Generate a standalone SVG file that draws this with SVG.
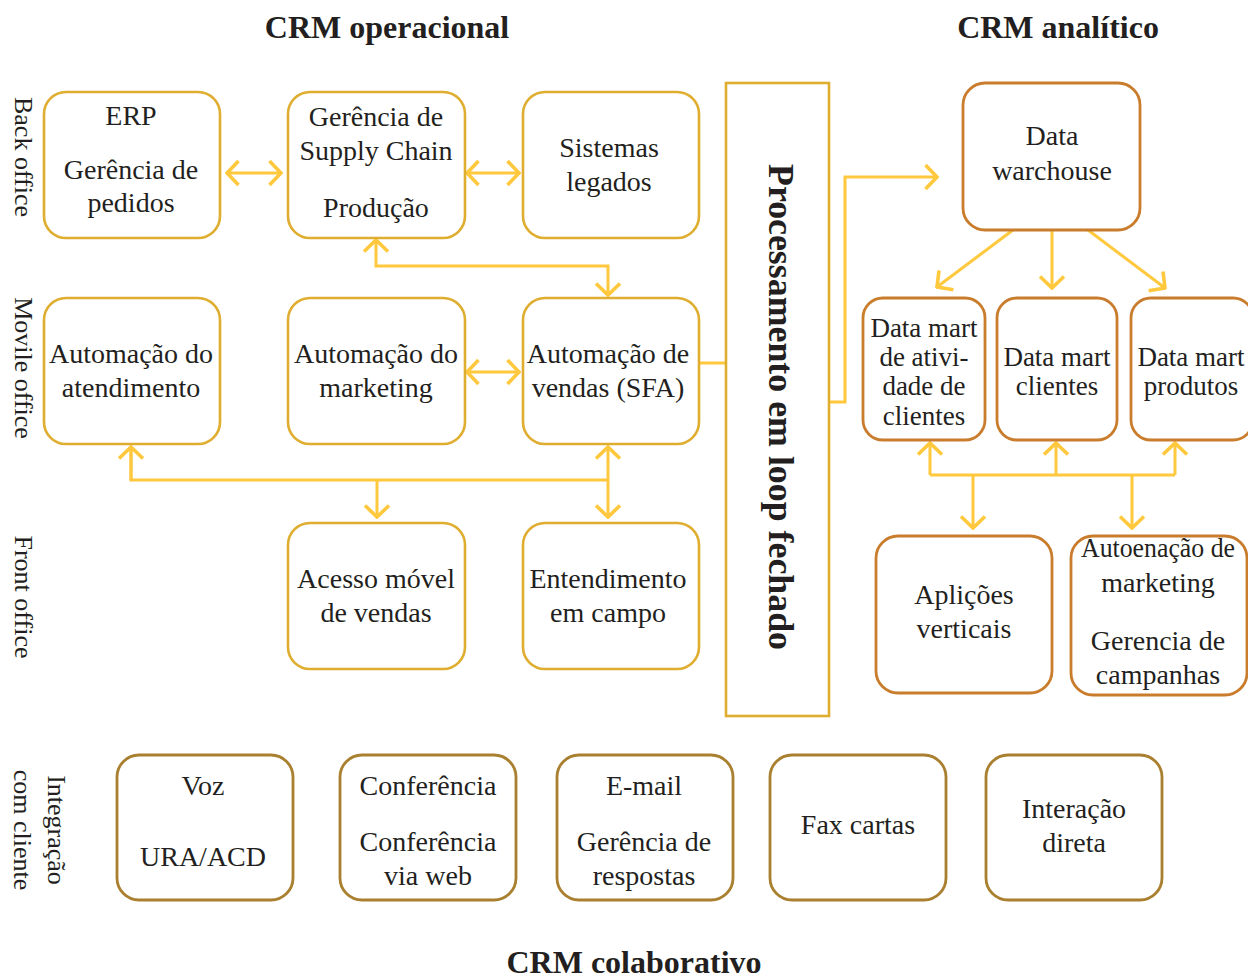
<svg xmlns="http://www.w3.org/2000/svg" width="1248" height="978" viewBox="0 0 1248 978">
  <style>
    text { font-family: "Liberation Serif", serif; fill: #231f20; }
    .t { font-size: 28px; text-anchor: middle; }
    .dm { font-size: 27px; text-anchor: middle; }
    .side { font-size: 26px; text-anchor: middle; }
    .head { font-size: 32px; font-weight: bold; text-anchor: middle; }
    .loop { font-size: 35px; font-weight: bold; text-anchor: middle; }
    .op { fill: #fff; stroke: #dfad2f; stroke-width: 2.6; }
    .an { fill: #fff; stroke: #c97c2c; stroke-width: 2.8; }
    .co { fill: #fff; stroke: #a97f30; stroke-width: 2.8; }
    .bar { fill: #fff; stroke: #dfad2f; stroke-width: 2.6; }
    .ln { fill: none; stroke: #ffc83d; stroke-width: 3; }
  </style>
  <defs>
    <marker id="ah" markerUnits="userSpaceOnUse" markerWidth="15" markerHeight="27" viewBox="0 0 15 27" refX="13" refY="13.5" orient="auto-start-reverse">
      <path d="M1.5,1.5 L13,13.5 L1.5,25.5" fill="none" stroke="#ffc83d" stroke-width="3.6"/>
    </marker>
  </defs>
  <rect width="1248" height="978" fill="#fff"/>

  <!-- Section headings -->
  <text class="head" x="387" y="38">CRM operacional</text>
  <text class="head" x="1058" y="38">CRM analítico</text>
  <text class="head" x="634" y="973">CRM colaborativo</text>

  <!-- Row labels -->
  <text class="side" transform="translate(15,157) rotate(90)">Back office</text>
  <text class="side" transform="translate(15,368) rotate(90)">Movile office</text>
  <text class="side" transform="translate(15,597) rotate(90)">Front office</text>
  <text class="side" transform="translate(48,830) rotate(90)">Integração</text>
  <text class="side" transform="translate(14,830) rotate(90)">com cliente</text>

  <!-- Connectors -->
  <g id="connectors">
    <line class="ln" x1="227" y1="173" x2="281" y2="173" marker-start="url(#ah)" marker-end="url(#ah)"/>
    <line class="ln" x1="467" y1="173" x2="519" y2="173" marker-start="url(#ah)" marker-end="url(#ah)"/>
    <polyline class="ln" points="376,240 376,266 608,266 608,295" marker-start="url(#ah)" marker-end="url(#ah)"/>
    <line class="ln" x1="467" y1="372" x2="519" y2="372" marker-start="url(#ah)" marker-end="url(#ah)"/>
    <line class="ln" x1="699" y1="363" x2="726" y2="363"/>
    <polyline class="ln" points="131,447 131,480 608,480"/>
    <line class="ln" x1="131" y1="480" x2="131" y2="447" marker-end="url(#ah)"/>
    <line class="ln" x1="608" y1="447" x2="608" y2="517" marker-start="url(#ah)" marker-end="url(#ah)"/>
    <line class="ln" x1="377" y1="480" x2="377" y2="517" marker-end="url(#ah)"/>
    <polyline class="ln" points="829,402 845,402 845,177 937,177" marker-end="url(#ah)"/>
    <line class="ln" x1="1013" y1="230" x2="937" y2="287" marker-end="url(#ah)"/>
    <line class="ln" x1="1052" y1="230" x2="1052" y2="288" marker-end="url(#ah)"/>
    <line class="ln" x1="1088" y1="230" x2="1165" y2="288" marker-end="url(#ah)"/>
    <line class="ln" x1="930" y1="475" x2="1175" y2="475"/>
    <line class="ln" x1="930" y1="475" x2="930" y2="443" marker-end="url(#ah)"/>
    <line class="ln" x1="1056" y1="475" x2="1056" y2="443" marker-end="url(#ah)"/>
    <line class="ln" x1="1175" y1="475" x2="1175" y2="443" marker-end="url(#ah)"/>
    <line class="ln" x1="973" y1="475" x2="973" y2="528" marker-end="url(#ah)"/>
    <line class="ln" x1="1132" y1="475" x2="1132" y2="528" marker-end="url(#ah)"/>
  </g>

  <!-- Operational CRM -->
  <g id="erp">
    <rect class="op" x="44" y="92" width="176" height="146" rx="22"/>
    <text class="t" x="131" y="125">ERP</text>
    <text class="t" x="131" y="179">Gerência de</text>
    <text class="t" x="131" y="212">pedidos</text>
  </g>
  <g id="supply-chain">
    <rect class="op" x="288" y="92" width="177" height="146" rx="22"/>
    <text class="t" x="376" y="126">Gerência de</text>
    <text class="t" x="376" y="160">Supply Chain</text>
    <text class="t" x="376" y="217">Produção</text>
  </g>
  <g id="legados">
    <rect class="op" x="523" y="92" width="176" height="146" rx="22"/>
    <text class="t" x="609" y="157">Sistemas</text>
    <text class="t" x="609" y="191">legados</text>
  </g>
  <g id="atendimento">
    <rect class="op" x="44" y="298" width="176" height="146" rx="22"/>
    <text class="t" x="131" y="363">Automação do</text>
    <text class="t" x="131" y="397">atendimento</text>
  </g>
  <g id="marketing">
    <rect class="op" x="288" y="298" width="177" height="146" rx="22"/>
    <text class="t" x="376" y="363">Automação do</text>
    <text class="t" x="376" y="397">marketing</text>
  </g>
  <g id="sfa">
    <rect class="op" x="523" y="298" width="176" height="146" rx="22"/>
    <text class="t" x="608" y="363">Automação de</text>
    <text class="t" x="608" y="397">vendas (SFA)</text>
  </g>
  <g id="acesso-movel">
    <rect class="op" x="288" y="523" width="177" height="146" rx="22"/>
    <text class="t" x="376" y="588">Acesso móvel</text>
    <text class="t" x="376" y="622">de vendas</text>
  </g>
  <g id="campo">
    <rect class="op" x="523" y="523" width="176" height="146" rx="22"/>
    <text class="t" x="608" y="588">Entendimento</text>
    <text class="t" x="608" y="622">em campo</text>
  </g>

  <!-- Closed-loop processing bar -->
  <g id="processamento">
    <rect class="bar" x="726" y="83" width="103" height="633"/>
    <text class="loop" transform="translate(769,407) rotate(90)" textLength="486" lengthAdjust="spacingAndGlyphs">Processamento em loop fechado</text>
  </g>

  <!-- Analytical CRM -->
  <g id="data-warehouse">
    <rect class="an" x="963" y="83" width="177" height="147" rx="22"/>
    <text class="t" x="1052" y="145">Data</text>
    <text class="t" x="1052" y="180">warchouse</text>
  </g>
  <g id="dm-atividade">
    <rect class="an" x="863" y="298" width="122" height="142" rx="20"/>
    <text class="dm" x="924" y="337">Data mart</text>
    <text class="dm" x="924" y="366">de ativi-</text>
    <text class="dm" x="924" y="395">dade de</text>
    <text class="dm" x="924" y="425">clientes</text>
  </g>
  <g id="dm-clientes">
    <rect class="an" x="997" y="298" width="120" height="142" rx="20"/>
    <text class="dm" x="1057" y="366">Data mart</text>
    <text class="dm" x="1057" y="395">clientes</text>
  </g>
  <g id="dm-produtos">
    <rect class="an" x="1131" y="298" width="122" height="142" rx="20"/>
    <text class="dm" x="1191" y="366">Data mart</text>
    <text class="dm" x="1191" y="395">produtos</text>
  </g>
  <g id="aplicacoes">
    <rect class="an" x="876" y="536" width="176" height="157" rx="22"/>
    <text class="t" x="964" y="604">Aplições</text>
    <text class="t" x="964" y="638">verticais</text>
  </g>
  <g id="automacao-mkt">
    <rect class="an" x="1071" y="536" width="176" height="159" rx="22"/>
    <text class="t" x="1158" y="557" textLength="154" lengthAdjust="spacingAndGlyphs">Autoenação de</text>
    <text class="t" x="1158" y="592">marketing</text>
    <text class="t" x="1158" y="650">Gerencia de</text>
    <text class="t" x="1158" y="684">campanhas</text>
  </g>

  <!-- Collaborative CRM -->
  <g id="voz">
    <rect class="co" x="117" y="755" width="176" height="145" rx="22"/>
    <text class="t" x="203" y="795">Voz</text>
    <text class="t" x="203" y="866">URA/ACD</text>
  </g>
  <g id="conferencia">
    <rect class="co" x="340" y="755" width="176" height="145" rx="22"/>
    <text class="t" x="428" y="795">Conferência</text>
    <text class="t" x="428" y="851">Conferência</text>
    <text class="t" x="428" y="885">via web</text>
  </g>
  <g id="email">
    <rect class="co" x="557" y="755" width="176" height="145" rx="22"/>
    <text class="t" x="644" y="795">E-mail</text>
    <text class="t" x="644" y="851">Gerência de</text>
    <text class="t" x="644" y="885">respostas</text>
  </g>
  <g id="fax">
    <rect class="co" x="770" y="755" width="176" height="145" rx="22"/>
    <text class="t" x="858" y="834">Fax cartas</text>
  </g>
  <g id="interacao">
    <rect class="co" x="986" y="755" width="176" height="145" rx="22"/>
    <text class="t" x="1074" y="818">Interação</text>
    <text class="t" x="1074" y="852">direta</text>
  </g>
</svg>
